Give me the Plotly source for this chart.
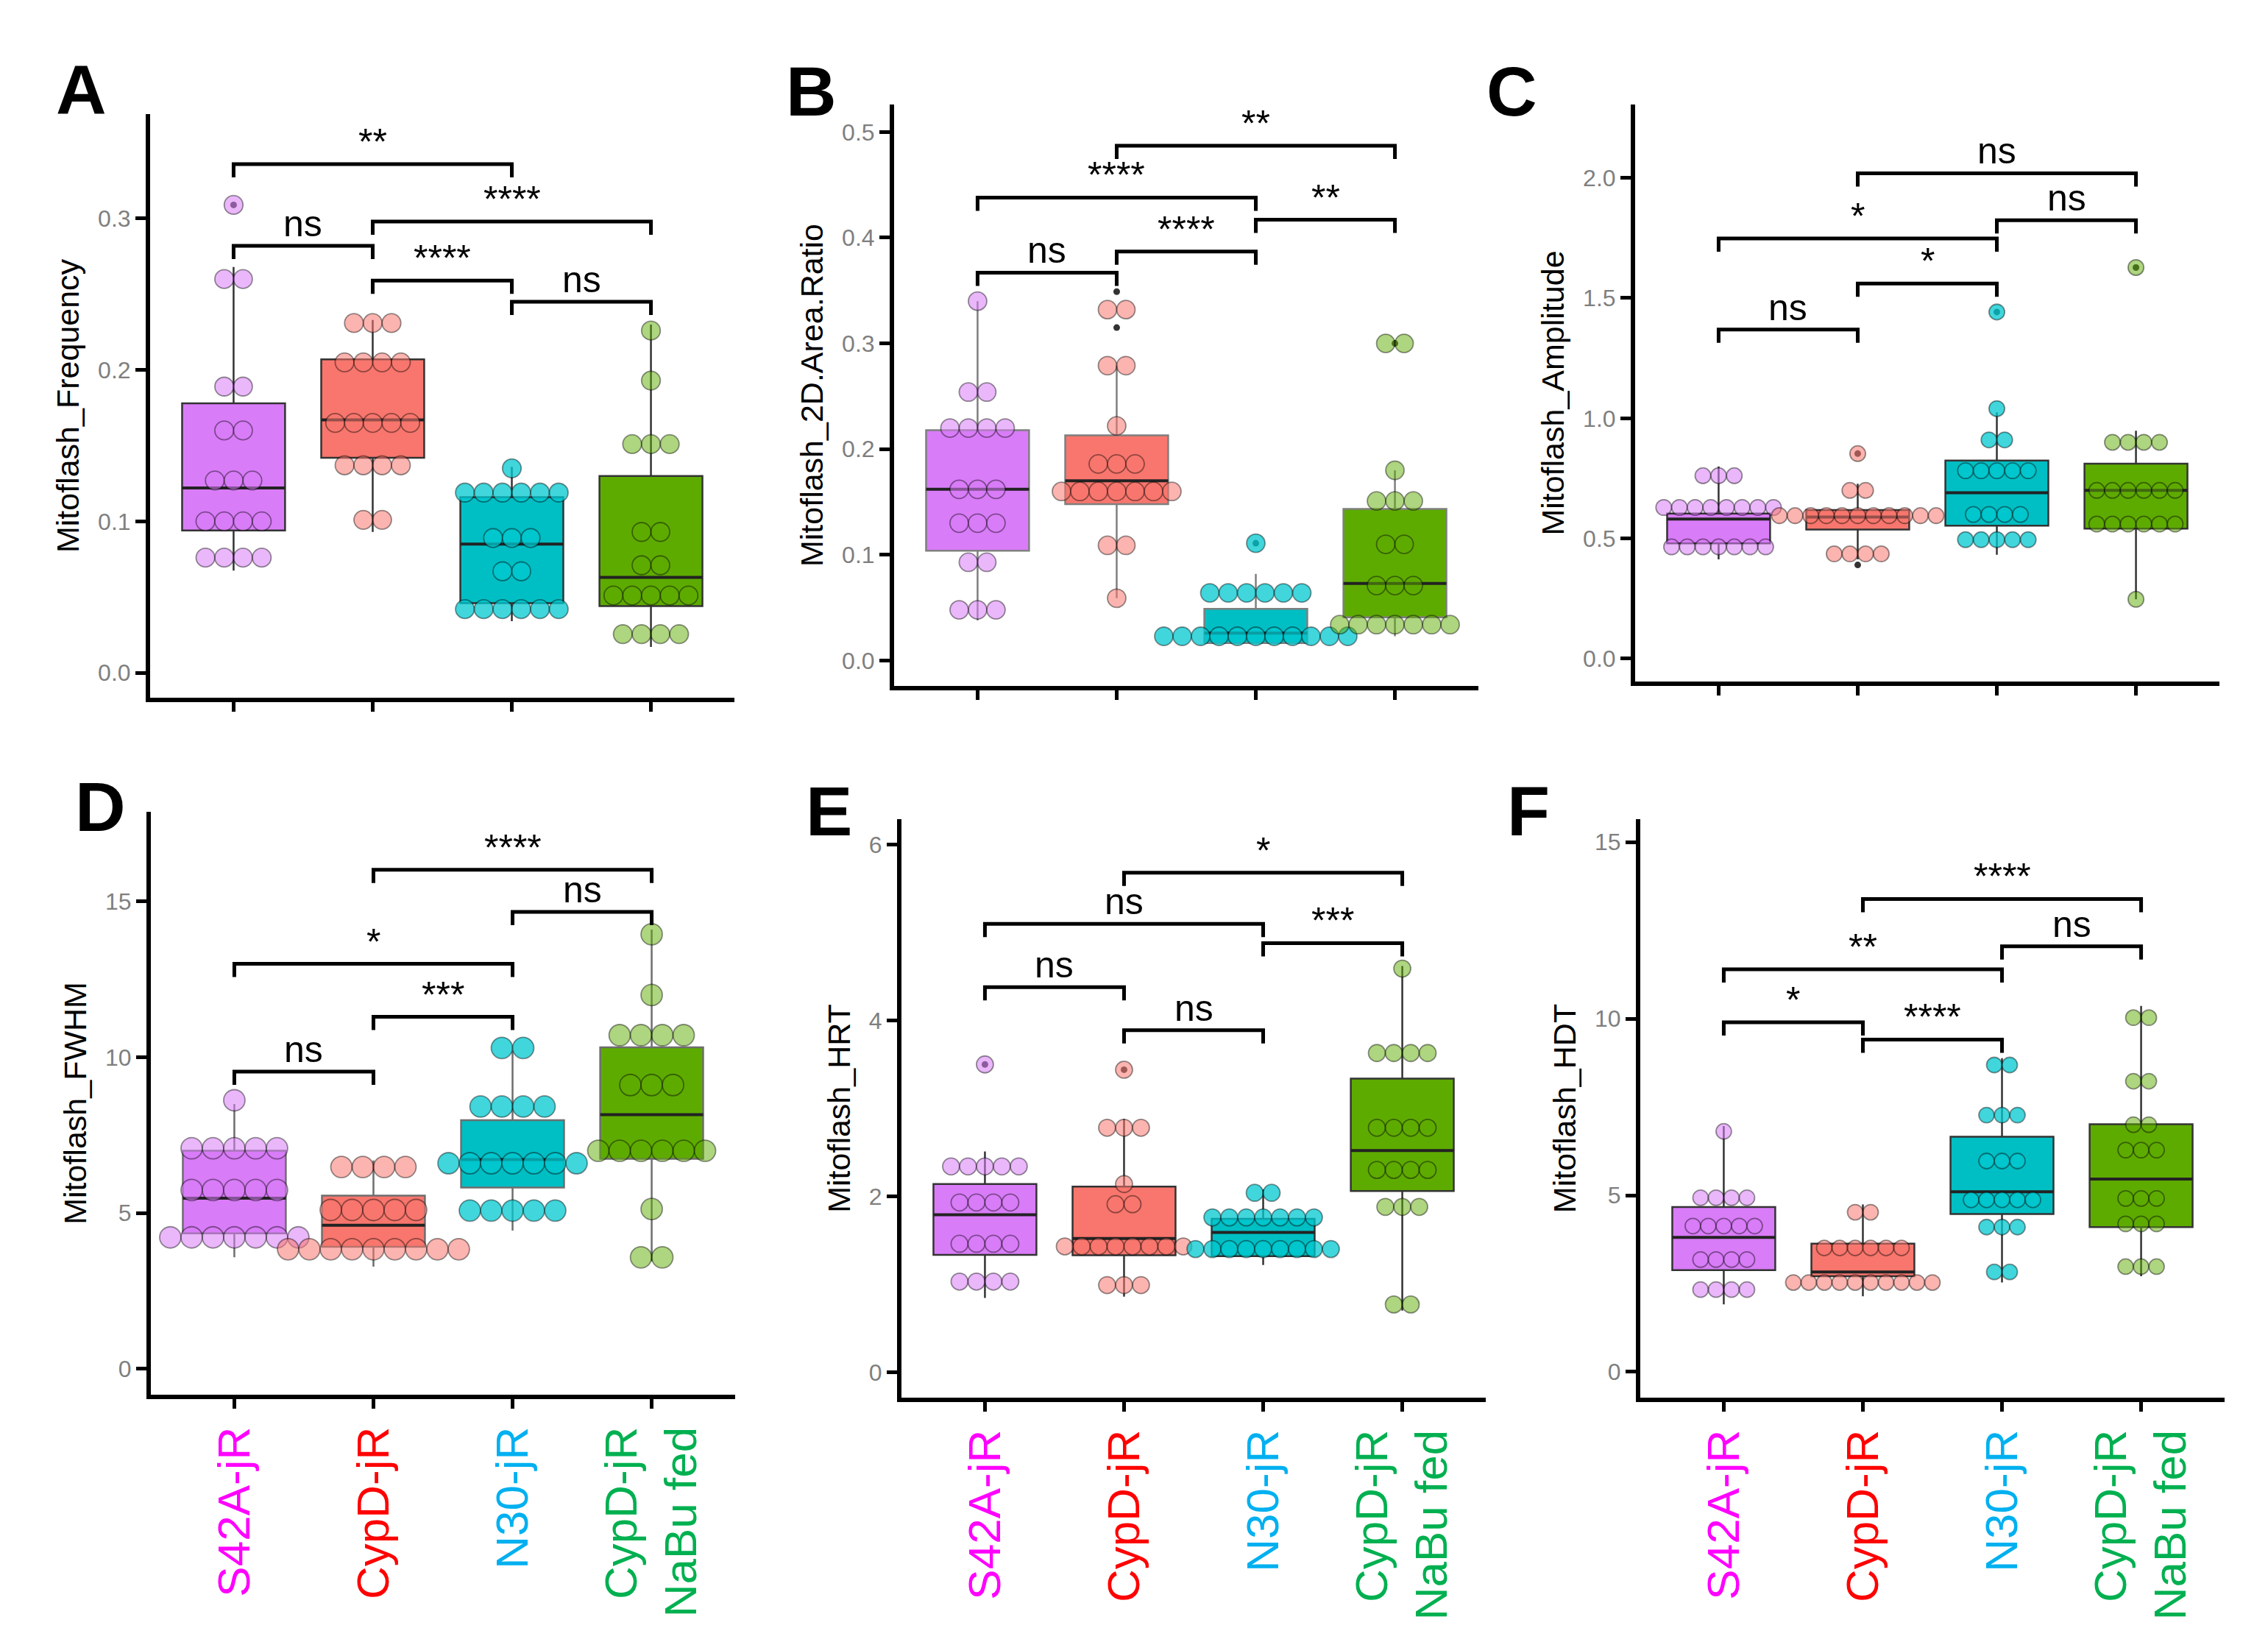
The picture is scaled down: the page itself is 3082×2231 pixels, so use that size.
import plotly.graph_objects as go

W, H = 3082, 2231
FONT = "Liberation Sans, Arial, sans-serif"

# ---------------- categories & colours ----------------
groups = ["S42A-jR", "CypD-jR", "N30-jR", "CypD-jR<br>NaBu fed"]
label_colors = ["#FF00FF", "#FF0000", "#00B0F0", "#00B050"]
box_fill = ["#D97CF8", "#F8766D", "#00BFC4", "#5EAB00"]
dot_fill = ["rgba(217,124,248,0.55)", "rgba(248,118,109,0.55)",
            "rgba(0,200,208,0.75)", "rgba(94,171,0,0.5)"]

# ---------------- A: Mitoflash_Frequency ----------------
freq_levels = [[0.309, 0.260, 0.189, 0.160, 0.127, 0.100, 0.076],
               [0.231, 0.205, 0.165, 0.137, 0.101],
               [0.135, 0.119, 0.089, 0.067, 0.042],
               [0.226, 0.193, 0.151, 0.093, 0.071, 0.051, 0.0255]]
freq_counts = [[1, 2, 2, 2, 3, 4, 4], [3, 4, 5, 4, 2], [1, 6, 3, 2, 6], [1, 1, 3, 2, 2, 5, 4]]
freq_box = [[0.094, 0.122, 0.178, 0.0675, 0.268],   # q1, median, q3, lower, upper
            [0.142, 0.167, 0.207, 0.093, 0.233],
            [0.046, 0.085, 0.116, 0.034, 0.136],
            [0.044, 0.063, 0.130, 0.017, 0.230]]
freq_out = [[0.309], [], [], []]
freq_sig = [(0, 2, 0.336, "**"), (1, 3, 0.298, "****"), (0, 1, 0.282, "ns"),
            (1, 2, 0.259, "****"), (2, 3, 0.245, "ns")]
freq_ticks = [0.0, 0.1, 0.2, 0.3]
freq_ticktext = ["0.0", "0.1", "0.2", "0.3"]

# ---------------- B: Mitoflash_2D.Area.Ratio ----------------
area_levels = [[0.340, 0.254, 0.220, 0.162, 0.130, 0.093, 0.048],
               [0.332, 0.279, 0.222, 0.186, 0.160, 0.109, 0.059],
               [0.111, 0.064, 0.023],
               [0.300, 0.180, 0.151, 0.110, 0.071, 0.034]]
area_counts = [[1, 2, 4, 3, 3, 2, 3], [2, 2, 1, 3, 7, 2, 1], [1, 6, 11], [2, 1, 3, 2, 3, 7]]
area_box = [[0.104, 0.162, 0.218, 0.038, 0.340],
            [0.148, 0.170, 0.213, 0.059, 0.279],
            [0.0165, 0.026, 0.049, 0.0165, 0.082],
            [0.041, 0.073, 0.1435, 0.023, 0.180]]
area_out = [[], [0.349, 0.315], [0.111], [0.300]]
area_sig = [(1, 3, 0.487, "**"), (0, 2, 0.438, "****"), (2, 3, 0.417, "**"),
            (1, 2, 0.387, "****"), (0, 1, 0.367, "ns")]
area_ticks = [0.0, 0.1, 0.2, 0.3, 0.4, 0.5]
area_ticktext = ["0.0", "0.1", "0.2", "0.3", "0.4", "0.5"]

# ---------------- C: Mitoflash_Amplitude ----------------
amp_levels = [[0.761, 0.629, 0.465],
              [0.853, 0.700, 0.595, 0.436],
              [1.442, 1.040, 0.910, 0.782, 0.600, 0.495],
              [1.627, 0.900, 0.700, 0.560, 0.247]]
amp_counts = [[3, 8, 7], [1, 2, 11, 4], [1, 1, 2, 5, 4, 5], [1, 4, 6, 6, 1]]
amp_box = [[0.480, 0.581, 0.604, 0.413, 0.800],
           [0.537, 0.589, 0.618, 0.413, 0.728],
           [0.553, 0.690, 0.824, 0.432, 1.025],
           [0.541, 0.700, 0.811, 0.247, 0.948]]
amp_out = [[], [0.853, 0.390], [1.442], [1.627]]
amp_sig = [(1, 3, 2.019, "ns"), (2, 3, 1.824, "ns"), (0, 2, 1.748, "*"),
           (1, 2, 1.560, "*"), (0, 1, 1.369, "ns")]
amp_ticks = [0.0, 0.5, 1.0, 1.5, 2.0]
amp_ticktext = ["0.0", "0.5", "1.0", "1.5", "2.0"]

# ---------------- D: Mitoflash_FWHM ----------------
fwhm_levels = [[8.62, 7.08, 5.74, 4.22],
               [6.48, 5.10, 3.84],
               [10.30, 8.42, 6.60, 5.08],
               [13.95, 12.0, 10.71, 9.11, 7.0, 5.13, 3.58]]
fwhm_counts = [[1, 5, 5, 7], [4, 5, 9], [2, 4, 7, 5], [1, 1, 4, 3, 6, 1, 2]]
fwhm_box = [[4.35, 5.48, 7.00, 3.58, 8.50],
            [3.92, 4.61, 5.56, 3.28, 6.69],
            [5.82, 6.72, 7.98, 4.44, 10.2],
            [6.74, 8.16, 10.32, 3.45, 14.1]]
fwhm_out = [[], [], [], []]
fwhm_sig = [(1, 3, 16.02, "****"), (2, 3, 14.67, "ns"), (0, 2, 13.0, "*"),
            (1, 2, 11.30, "***"), (0, 1, 9.54, "ns")]
fwhm_ticks = [0, 5, 10, 15]
fwhm_ticktext = ["0", "5", "10", "15"]

# ---------------- E: Mitoflash_HRT ----------------
hrt_levels = [[3.50, 2.34, 1.93, 1.46, 1.03],
              [3.44, 2.78, 2.14, 1.91, 1.43, 0.99],
              [2.04, 1.76, 1.40],
              [4.59, 3.63, 2.78, 2.30, 1.88, 0.77]]
hrt_counts = [[1, 5, 4, 4, 4], [1, 3, 1, 2, 8, 3], [2, 7, 9], [1, 4, 4, 4, 3, 2]]
hrt_box = [[1.335, 1.79, 2.14, 0.845, 2.51],
           [1.33, 1.52, 2.11, 0.86, 2.88],
           [1.32, 1.59, 1.745, 1.22, 2.08],
           [2.06, 2.52, 3.34, 0.70, 4.62]]
hrt_out = [[3.50], [3.44], [], []]
hrt_sig = [(1, 3, 5.68, "*"), (0, 2, 5.10, "ns"), (2, 3, 4.88, "***"),
           (0, 1, 4.38, "ns"), (1, 2, 3.89, "ns")]
hrt_ticks = [0, 2, 4, 6]
hrt_ticktext = ["0", "2", "4", "6"]

# ---------------- F: Mitoflash_HDT ----------------
hdt_levels = [[6.81, 4.93, 4.13, 3.18, 2.33],
              [4.52, 3.51, 2.53],
              [8.69, 7.27, 5.97, 4.87, 4.10, 2.83],
              [10.03, 8.23, 7.0, 6.28, 4.91, 4.19, 2.98]]
hdt_counts = [[1, 4, 5, 4, 4], [2, 6, 10], [2, 3, 3, 5, 3, 2], [2, 2, 2, 3, 3, 3, 3]]
hdt_box = [[2.88, 3.81, 4.67, 1.91, 6.96],
           [2.71, 2.83, 3.63, 2.14, 4.74],
           [4.47, 5.10, 6.66, 2.53, 8.88],
           [4.10, 5.46, 7.01, 2.71, 10.36]]
hdt_out = [[], [], [], []]
hdt_sig = [(1, 3, 13.39, "****"), (2, 3, 12.05, "ns"), (0, 2, 11.40, "**"),
           (0, 1, 9.90, "*"), (1, 2, 9.41, "****")]
hdt_ticks = [0, 5, 10, 15]
hdt_ticktext = ["0", "5", "10", "15"]

panels = [
    dict(letter="A", title="Mitoflash_Frequency", levels=freq_levels, counts=freq_counts,
         box=freq_box, out=freq_out, sig=freq_sig, ticks=freq_ticks, ticktext=freq_ticktext),
    dict(letter="B", title="Mitoflash_2D.Area.Ratio", levels=area_levels, counts=area_counts,
         box=area_box, out=area_out, sig=area_sig, ticks=area_ticks, ticktext=area_ticktext),
    dict(letter="C", title="Mitoflash_Amplitude", levels=amp_levels, counts=amp_counts,
         box=amp_box, out=amp_out, sig=amp_sig, ticks=amp_ticks, ticktext=amp_ticktext),
    dict(letter="D", title="Mitoflash_FWHM", levels=fwhm_levels, counts=fwhm_counts,
         box=fwhm_box, out=fwhm_out, sig=fwhm_sig, ticks=fwhm_ticks, ticktext=fwhm_ticktext),
    dict(letter="E", title="Mitoflash_HRT", levels=hrt_levels, counts=hrt_counts,
         box=hrt_box, out=hrt_out, sig=hrt_sig, ticks=hrt_ticks, ticktext=hrt_ticktext),
    dict(letter="F", title="Mitoflash_HDT", levels=hdt_levels, counts=hdt_counts,
         box=hdt_box, out=hdt_out, sig=hdt_sig, ticks=hdt_ticks, ticktext=hdt_ticktext),
]

# ---------------- layout geometry (pixels) ----------------
# x_left, x_right, y_top, y_bottom of each plotting panel
geom = [(196, 990, 147, 940), (1207, 2001, 134, 924), (2214, 3008, 134, 918),
        (197, 991, 1095, 1887), (1217, 2011, 1105, 1891), (2221, 3015, 1105, 1891)]
yranges = [(-0.0165, 0.369), (-0.024, 0.526), (-0.095, 2.305),
           (-0.83, 17.88), (-0.29, 6.29), (-0.73, 15.65)]
dot_px = [25.5, 25.0, 21.3, 29.0, 23.0, 21.0]
box_line = ["#333333", "#7F7F7F", "#333333", "#6E6E6E", "#333333", "#333333"]
letter_pos = [(66, 114), (1058, 116), (2010, 116), (92, 1088), (1085, 1094), (2038, 1094)]

XR = (-0.6, 3.6)
BOXW = 0.74
TIP_PX = 18

fig = go.Figure()
layout = dict(width=W, height=H, margin=dict(l=0, r=0, t=0, b=0), autosize=False,
              plot_bgcolor="white", paper_bgcolor="white", showlegend=False,
              font=dict(family=FONT, color="black"), annotations=[])

for k, p in enumerate(panels):
    xl, xr, yt, yb = geom[k]
    xa = "x" if k == 0 else f"x{k+1}"
    ya = "y" if k == 0 else f"y{k+1}"
    px_per_x = (xr - xl) / (XR[1] - XR[0])
    px_per_y = (yb - yt) / (yranges[k][1] - yranges[k][0])
    dx = dot_px[k] / px_per_x
    tip = TIP_PX / px_per_y

    for g in range(4):
        q1, med, q3, lo, hi = p["box"][g]
        fig.add_trace(go.Box(x=[g], q1=[q1], median=[med], q3=[q3], lowerfence=[lo],
                             upperfence=[hi], width=BOXW, whiskerwidth=0, boxpoints=False,
                             fillcolor=box_fill[g], line=dict(color=box_line[k], width=2.5),
                             xaxis=xa, yaxis=ya, hoverinfo="skip"))
        fig.add_trace(go.Scatter(x=[g - BOXW / 2, g + BOXW / 2], y=[med, med], mode="lines",
                                 line=dict(color="#222222", width=4), xaxis=xa, yaxis=ya,
                                 hoverinfo="skip"))
        if p["out"][g]:
            fig.add_trace(go.Scatter(x=[g] * len(p["out"][g]), y=p["out"][g], mode="markers",
                                     marker=dict(size=9, color="#333333"), xaxis=xa, yaxis=ya,
                                     hoverinfo="skip"))
        xs, ys = [], []
        for lev, n in zip(p["levels"][g], p["counts"][g]):
            for c in range(n):
                xs.append(g + (c - (n - 1) / 2) * dx)
                ys.append(lev)
        fig.add_trace(go.Scatter(x=xs, y=ys, mode="markers",
                                 marker=dict(size=dot_px[k], color=dot_fill[g],
                                             line=dict(color="rgba(0,0,0,0.42)", width=1.8)),
                                 xaxis=xa, yaxis=ya, hoverinfo="skip"))

    bx, by = [], []
    for i, j, yv, lab in p["sig"]:
        bx += [i, i, j, j, None]
        by += [yv - tip, yv, yv, yv - tip, None]
        layout["annotations"].append(dict(x=(i + j) / 2, y=yv, xref=xa, yref=ya, text=lab,
                                          showarrow=False, yanchor="bottom", xanchor="center",
                                          font=dict(size=50, color="black", family=FONT)))
    fig.add_trace(go.Scatter(x=bx, y=by, mode="lines", line=dict(color="black", width=5),
                             xaxis=xa, yaxis=ya, hoverinfo="skip"))

    bottom = k >= 3
    ticktext = [f'<span style="color:{label_colors[g]}">' +
                groups[g].replace("<br>", f'</span><br><span style="color:{label_colors[g]}">') +
                "</span>" for g in range(4)]
    xkey = "xaxis" if k == 0 else f"xaxis{k+1}"
    ykey = "yaxis" if k == 0 else f"yaxis{k+1}"
    layout[xkey] = dict(domain=[xl / W, xr / W], anchor=ya, range=list(XR),
                        tickvals=[0, 1, 2, 3], ticktext=ticktext, showticklabels=bottom,
                        tickangle=-90, tickfont=dict(size=62, family=FONT),
                        ticks="outside", ticklen=13, tickwidth=5, tickcolor="black",
                        showline=True, linewidth=6, linecolor="black",
                        showgrid=False, zeroline=False, fixedrange=True)
    layout[ykey] = dict(domain=[1 - yb / H, 1 - yt / H], anchor=xa, range=list(yranges[k]),
                        tickvals=p["ticks"], ticktext=p["ticktext"],
                        tickfont=dict(size=32, color="#7F7F7F", family=FONT),
                        ticks="outside", ticklen=14, tickwidth=5, tickcolor="black",
                        showline=True, linewidth=6, linecolor="black",
                        showgrid=False, zeroline=False, fixedrange=True,
                        title=dict(text=p["title"], font=dict(size=43, color="black", family=FONT),
                                   standoff=14))
    lx, ly = letter_pos[k]
    layout["annotations"].append(dict(x=lx / W, y=1 - ly / H, xref="paper", yref="paper",
                                      text=f"<b>{p['letter']}</b>", showarrow=False,
                                      xanchor="left", yanchor="middle",
                                      font=dict(size=95, color="black", family=FONT)))

fig.update_layout(**layout)
fig.write_html("out.html")
